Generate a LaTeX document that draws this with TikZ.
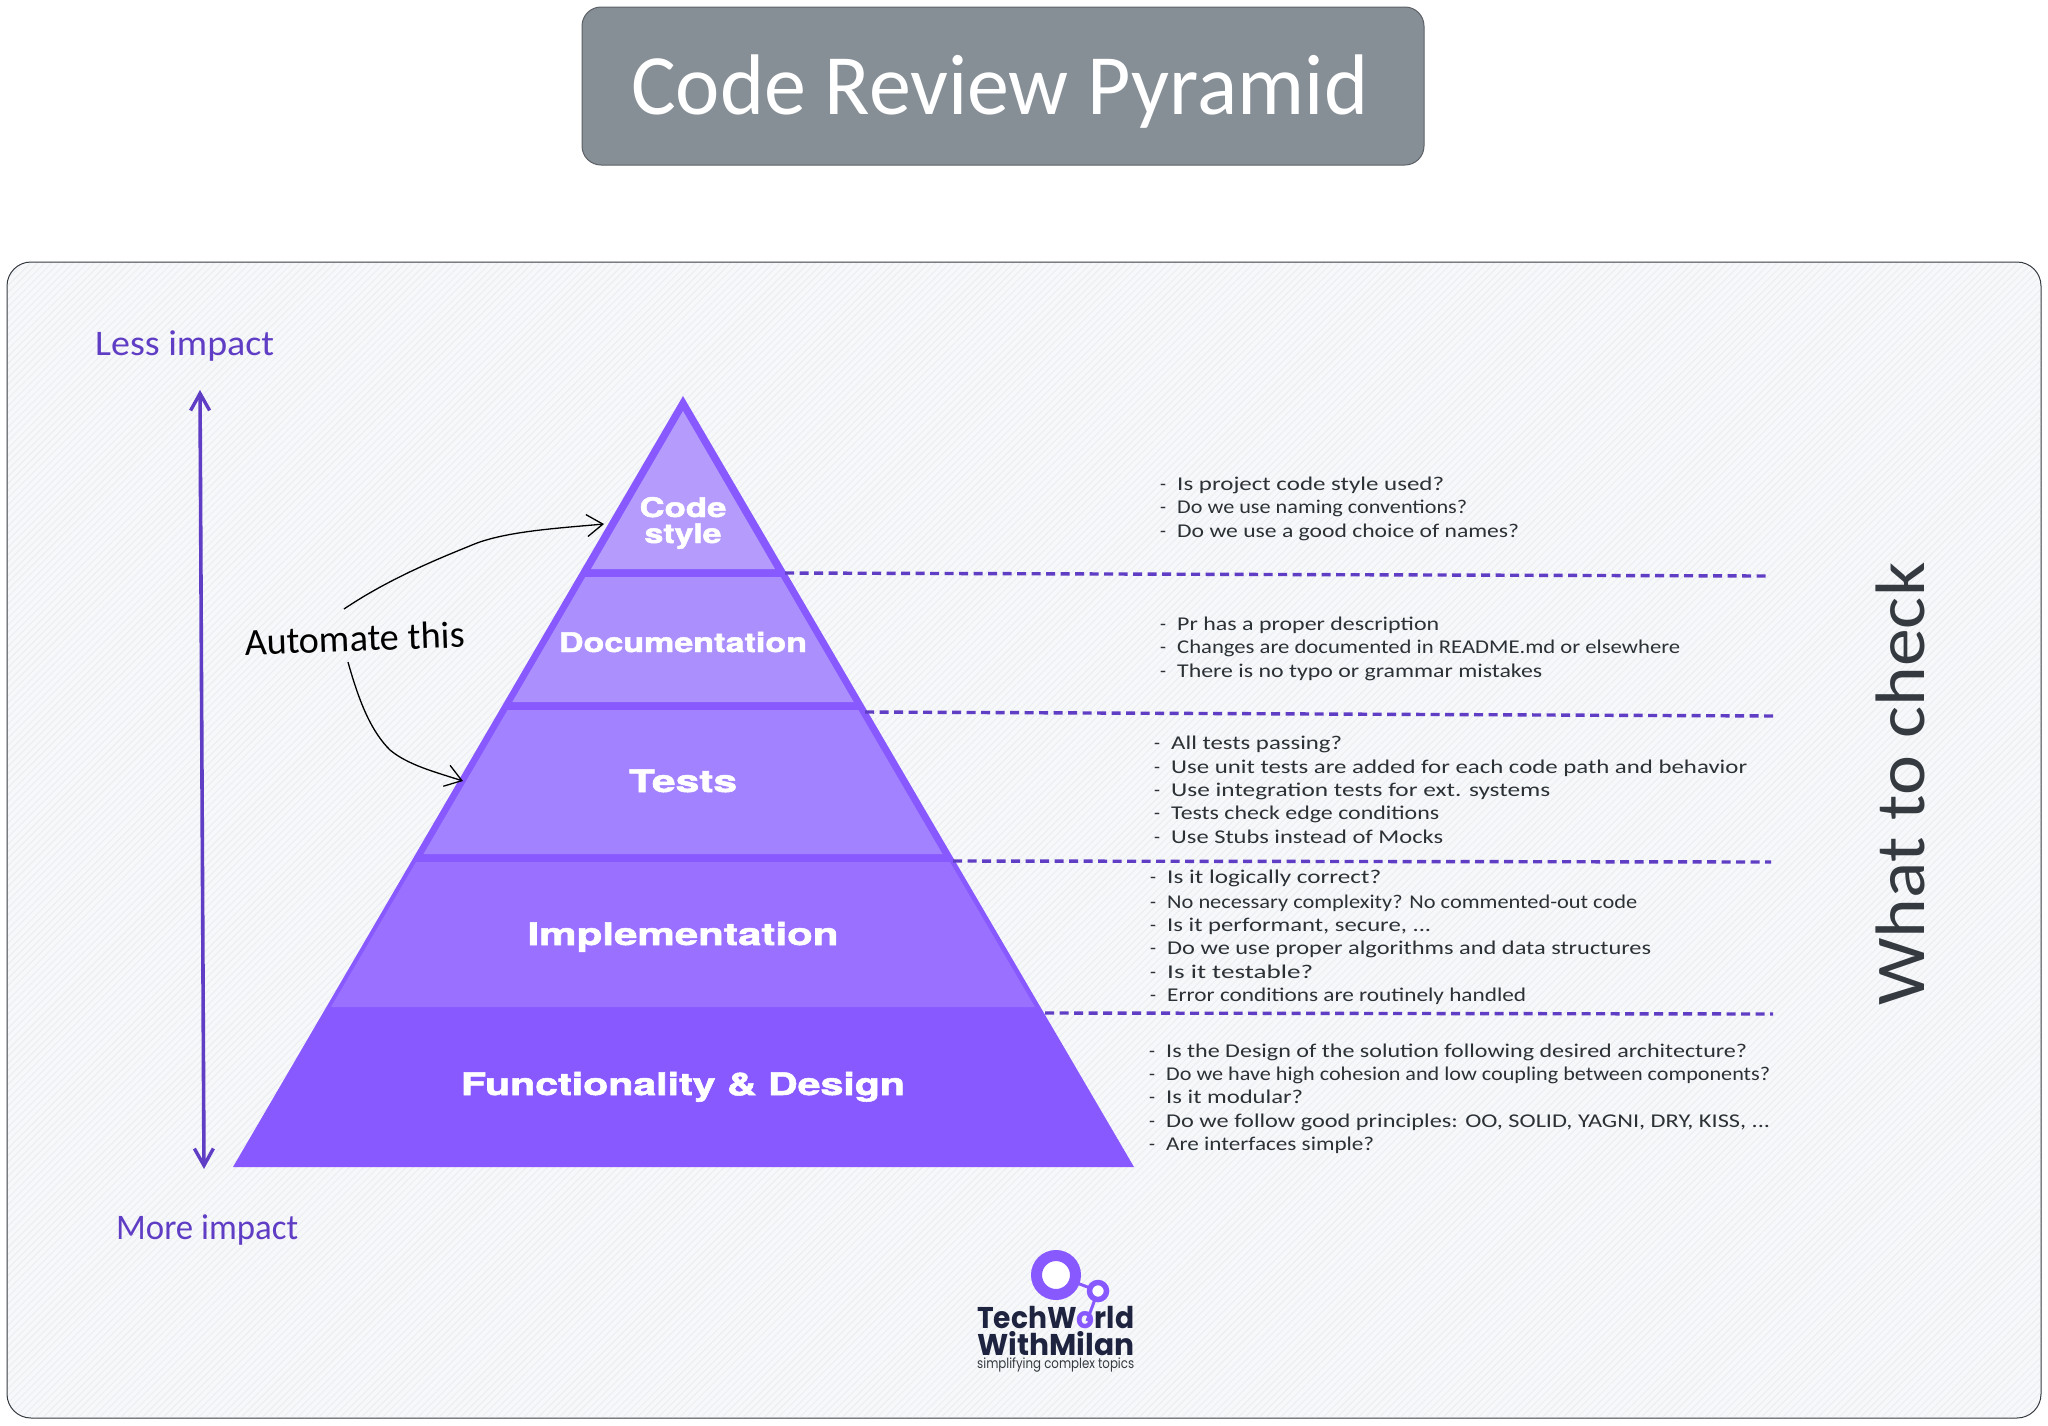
\documentclass[tikz,border=0pt]{standalone}
\usepackage{fontspec}
\usepackage{graphicx}
\usetikzlibrary{arrows.meta,patterns.meta}
\newfontfamily\handf{Carlito}
\newfontfamily\widef[BoldFeatures={FakeBold=1.6}]{TeX Gyre Heros}
\newfontfamily\logof{Poppins}
\definecolor{violetdark}{HTML}{5F3DC4}
\definecolor{pyrbase}{HTML}{8859FF}
\definecolor{layA}{HTML}{B49BFC}
\definecolor{layB}{HTML}{AB90FD}
\definecolor{layC}{HTML}{A282FE}
\definecolor{layD}{HTML}{9970FF}
\definecolor{panelbg}{HTML}{F7F8FA}
\definecolor{panelhatch}{HTML}{EDEEF2}
\definecolor{titlegrey}{HTML}{868E96}
\definecolor{charcoal}{HTML}{343A40}
\definecolor{logodark}{HTML}{1E2440}
\newsavebox\fitbox
\newcommand\fitx[2]{\sbox\fitbox{#2}\pgfmathsetmacro\fitr{#1/\the\wd\fitbox}\scalebox{\fitr}[1]{\usebox\fitbox}}
\newcommand\chk[2]{\makebox[17pt][l]{-}\pgfmathsetmacro\chkw{#1-17}\fitx{\chkw}{#2}}
\tikzset{
  checkline/.style={anchor=base west,inner sep=0pt,text=charcoal!85!black,font=\handf\fontsize{19.5}{23}\selectfont},
  hand/.style={inner sep=0pt,font=\handf\fontsize{#1}{#1}\selectfont},
  pyrlabel/.style={anchor=base,inner sep=0pt,text=white,font=\widef\bfseries\fontsize{#1}{#1}\selectfont},
  tierline/.style={violetdark,line width=3.4pt,dash pattern=on 9pt off 5.5pt},
  impactarrow/.style={violetdark,line width=3.6pt,{Straight Barb[length=17pt,width=19pt,line width=3.4pt]}-{Straight Barb[length=17pt,width=19pt,line width=3.4pt]}},
  autoarrow/.style={black,line width=1.3pt,-{Straight Barb[length=16pt,width=22pt,line width=1.3pt]}},
  logotext/.style={anchor=base west,inner sep=0pt,text=logodark,font=\logof\bfseries\fontsize{30}{30}\selectfont}
}
\begin{document}
\begin{tikzpicture}[x=1pt,y=-1pt]
\useasboundingbox (0,0) rectangle (2048,1425);
\fill[white] (0,0) rectangle (2048,1425);
% title
\draw[fill=titlegrey,draw=charcoal!80,line width=1pt,rounded corners=19pt] (582,7) rectangle (1424,165);
\node[hand=86,anchor=base,text=white] (title) at (999.5,114) {\fitx{737}{Code Review Pyramid}};
% panel
\draw[fill=panelbg,draw=charcoal,line width=1pt,rounded corners=24pt] (7,262) rectangle (2041,1418);
\fill[pattern={Lines[angle=45,distance=5pt,line width=1pt]},pattern color=panelhatch,rounded corners=24pt] (8,263) rectangle (2040,1417);
% pyramid
\fill[pyrbase] (683,396) -- (1134,1167) -- (233,1167) -- cycle;
\fill[layA] (683,411) -- (775,569) -- (591,569) -- cycle;
\fill[layB] (585.3,577) -- (780.7,577) -- (853.7,702) -- (512.3,702) -- cycle;
\fill[layC] (507.6,710) -- (858.4,710) -- (942.5,854) -- (423.5,854) -- cycle;
\fill[layD] (416,862) -- (950,862) -- (1035,1007) -- (331,1007) -- cycle;
\coordinate (t1) at (785,573);
\coordinate (e1) at (1766,576);
\coordinate (t2) at (865,712);
\coordinate (e2) at (1774,716);
\coordinate (t3) at (953,861);
\coordinate (e3) at (1771,862);
\coordinate (t4) at (1045,1013);
\coordinate (e4) at (1773,1014);
\draw[tierline] (t1) -- (e1);
\draw[tierline] (t2) -- (e2);
\draw[tierline] (t3) -- (e3);
\draw[tierline] (t4) -- (e4);
% pyramid labels
\node[pyrlabel=27] (code) at (683,517) {\fitx{87}{Code}};
\node[pyrlabel=27] (style) at (683,543) {\fitx{77}{style}};
\node[pyrlabel=27] (doc) at (683,652) {\fitx{248}{Documentation}};
\node[pyrlabel=31] (tests) at (683,792) {\fitx{108}{Tests}};
\node[pyrlabel=31] (impl) at (683,945) {\fitx{311}{Implementation}};
\node[pyrlabel=31] (func) at (683,1095) {\fitx{444}{Functionality \& Design}};
% impact
\coordinate (imptop) at (200,390);
\coordinate (impbot) at (204,1169);
\draw[impactarrow] (imptop) -- (impbot);
\node[hand=36,anchor=base west,text=violetdark] (less) at (95,355) {\fitx{179}{Less impact}};
\node[hand=36,anchor=base west,text=violetdark] (more) at (116,1239) {\fitx{182}{More impact}};
% automate
\node[hand=38,anchor=base west,text=black,rotate=2] (auto) at (245,655) {\fitx{220}{Automate this}};
\coordinate (a1) at (344,609);
\coordinate (a2) at (604,524);
\coordinate (b1) at (348,662);
\coordinate (b2) at (463,781);
\draw[autoarrow] (a1) .. controls (390,578) and (440,558) .. (477,543) .. controls (510,531) and (560,528) .. (a2);
\draw[autoarrow] (b1) .. controls (360,705) and (372,732) .. (390,750) .. controls (408,765) and (435,772) .. (b2);
% checks
\node[checkline] (c11) at (1160,490) {\chk{284}{Is project code style used?}};
\node[checkline] (c12) at (1160,513) {\chk{307}{Do we use naming conventions?}};
\node[checkline] (c13) at (1160,537) {\chk{359}{Do we use a good choice of names?}};
\node[checkline] (c21) at (1160,630) {\chk{279}{Pr has a proper description}};
\node[checkline] (c22) at (1160,653) {\chk{520}{Changes are documented in README.md or elsewhere}};
\node[checkline] (c23) at (1160,677) {\chk{382}{There is no typo or grammar mistakes}};
\node[checkline] (c31) at (1154,749) {\chk{188}{All tests passing?}};
\node[checkline] (c32) at (1154,773) {\chk{593}{Use unit tests are added for each code path and behavior}};
\node[checkline] (c33) at (1154,796) {\chk{396}{Use integration tests for ext. systems}};
\node[checkline] (c34) at (1154,819) {\chk{285}{Tests check edge conditions}};
\node[checkline] (c35) at (1154,843) {\chk{289}{Use Stubs instead of Mocks}};
\node[checkline] (c41) at (1150,883) {\chk{231}{Is it logically correct?}};
\node[checkline] (c42) at (1150,908) {\chk{487}{No necessary complexity? No commented-out code}};
\node[checkline] (c43) at (1150,931) {\chk{281}{Is it performant, secure, ...}};
\node[checkline] (c44) at (1150,954) {\chk{501}{Do we use proper algorithms and data structures}};
\node[checkline] (c45) at (1150,978) {\chk{163}{Is it testable?}};
\node[checkline] (c46) at (1150,1001) {\chk{376}{Error conditions are routinely handled}};
\node[checkline] (c51) at (1149,1057) {\chk{598}{Is the Design of the solution following desired architecture?}};
\node[checkline] (c52) at (1149,1080) {\chk{621}{Do we have high cohesion and low coupling between components?}};
\node[checkline] (c53) at (1149,1103) {\chk{154}{Is it modular?}};
\node[checkline] (c54) at (1149,1127) {\chk{621}{Do we follow good principles: OO, SOLID, YAGNI, DRY, KISS, ...}};
\node[checkline] (c55) at (1149,1150) {\chk{225}{Are interfaces simple?}};
% what to check
\node[hand=70,anchor=base,rotate=90,text=charcoal] (what) at (1924,784) {\fitx{443}{What to check}};
% logo
\coordinate (ringA) at (1056,1275);
\coordinate (ringB) at (1098,1291);
\coordinate (ringC) at (1087,1321);
\draw[pyrbase,line width=3pt] (ringA) -- (ringB) -- (ringC);
\draw[pyrbase,line width=11pt,fill=white] (ringA) circle (19.5pt);
\draw[pyrbase,line width=5.5pt,fill=white] (ringB) circle (8.5pt);
\node[logotext] (lg1) at (977,1328) {\fitx{157}{TechW{\color{pyrbase}o}rld}};
\node[logotext] (lg2) at (977,1355) {\fitx{157}{WithMilan}};
\node[logotext,font=\logof\fontsize{14}{14}\selectfont,text=charcoal] (lg3) at (977,1368) {\fitx{157}{simplifying complex topics}};
\end{tikzpicture}
\end{document}
